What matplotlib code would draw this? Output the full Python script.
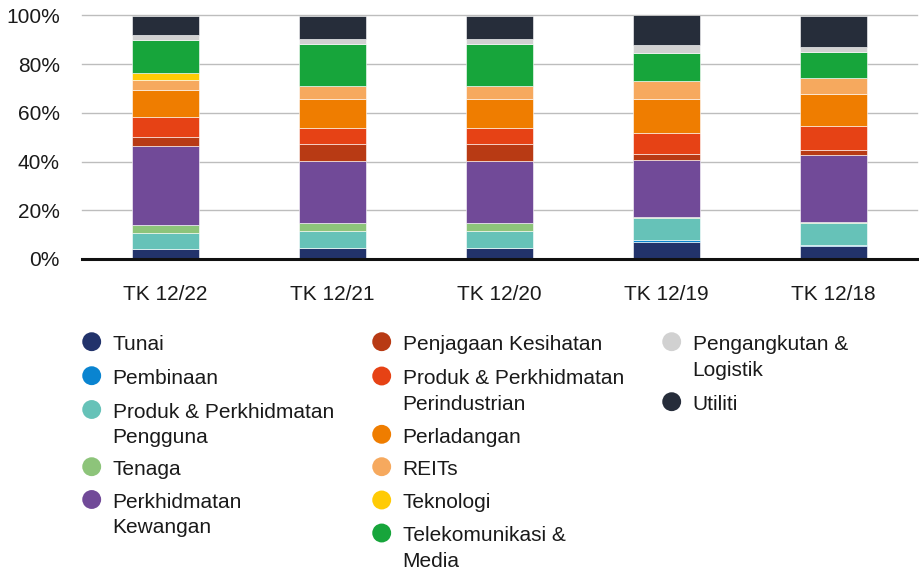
import matplotlib
matplotlib.use("Agg")
import matplotlib.pyplot as plt
import numpy as np

plt.rcParams['font.family'] = ['Liberation Sans', 'DejaVu Sans']

categories = ["TK 12/22", "TK 12/21", "TK 12/20", "TK 12/19", "TK 12/18"]

series_names = [
    "Tunai", "Pembinaan", "Produk & Perkhidmatan\nPengguna", "Tenaga",
    "Perkhidmatan\nKewangan", "Penjagaan Kesihatan",
    "Produk & Perkhidmatan\nPerindustrian", "Perladangan", "REITs",
    "Teknologi", "Telekomunikasi &\nMedia", "Pengangkutan &\nLogistik", "Utiliti",
]

tunai        = [4.0, 4.7, 4.7, 7.1, 5.3]
pembinaan    = [0.0, 0.0, 0.0, 0.7, 0.5]
pengguna     = [6.8, 7.0, 7.0, 8.9, 9.0]
tenaga       = [3.1, 3.0, 3.0, 0.7, 0.5]
kewangan     = [32.6, 25.6, 25.6, 23.3, 27.5]
kesihatan    = [3.7, 6.8, 6.8, 2.3, 1.8]
perindustrian = [8.2, 6.8, 6.8, 8.6, 10.0]
perladangan  = [10.9, 11.8, 11.8, 14.1, 13.1]
reits        = [4.1, 5.2, 5.2, 7.3, 6.8]
teknologi    = [3.1, 0.0, 0.0, 0.0, 0.0]
telekom      = [13.5, 17.5, 17.5, 11.6, 10.5]
pengangkutan = [2.1, 1.8, 1.8, 3.3, 2.1]
utiliti      = [7.8, 9.8, 9.8, 12.2, 12.7]

series_values = [tunai, pembinaan, pengguna, tenaga, kewangan, kesihatan,
                 perindustrian, perladangan, reits, teknologi, telekom,
                 pengangkutan, utiliti]

colors = ["#22336b", "#0a84d0", "#66c2b8", "#8dc47a", "#714a98", "#b83a14",
          "#e64215", "#ef7d00", "#f6a95e", "#ffcb05", "#17a53b", "#d1d1d1",
          "#262d3a"]

W, H = 920, 569
fig = plt.figure(figsize=(W / 100, H / 100), dpi=100)
ax = fig.add_axes([82 / W, 1 - 259 / H, (917 - 82) / W, (259 - 15.5) / H])

x = np.arange(len(categories))
bottom = np.zeros(len(categories))
for vals, col in zip(series_values, colors):
    v = np.array(vals, dtype=float)
    ax.bar(x, v, bottom=bottom, width=0.4, color=col, edgecolor="white",
           linewidth=0.4, zorder=3)
    bottom += v

yticks = [0, 20, 40, 60, 80, 100]
ax.set_xlim(-0.5, 4.5)
ax.set_ylim(0, 100)
ax.set_yticks(yticks)
ax.set_yticklabels([f"{t}%" for t in yticks], fontsize=15, color="#1a1a1a")
ax.set_xticks(x)
ax.set_xticklabels(categories, fontsize=15, color="#1a1a1a")
ax.tick_params(axis="y", length=0, pad=16)
ax.tick_params(axis="x", length=0, pad=19)
for s in ax.spines.values():
    s.set_visible(False)
for t in yticks[1:]:
    ax.axhline(t, color="#bdbdbd", linewidth=1.0, zorder=0, clip_on=False)
ax.axhline(0, color="#111111", linewidth=2.2, zorder=4, clip_on=False)

# Legend drawn on an overlay axes in pixel coordinates
lg = fig.add_axes([0, 0, 1, 1])
lg.set_xlim(0, W)
lg.set_ylim(H, 0)
lg.axis("off")

col_x = [91.7, 381.7, 671.7]
layout = [
    (0, 341.7), (0, 375.7), (0, 409.5), (0, 466.7), (0, 499.5),
    (1, 341.7), (1, 376.0), (1, 434.3), (1, 466.7), (1, 500.0), (1, 533.0),
    (2, 341.7), (2, 401.7),
]
line_gap = 25.5
for name, col, (c, y) in zip(series_names, colors, layout):
    mx = col_x[c]
    lg.scatter([mx], [y], s=185, color=col, edgecolors="none")
    for i, line in enumerate(name.split("\n")):
        lg.text(mx + 21, y + 0.8 + i * line_gap, line, fontsize=15, color="#1a1a1a",
                va="center_baseline", ha="left")

fig.savefig("out.png", dpi=100)
